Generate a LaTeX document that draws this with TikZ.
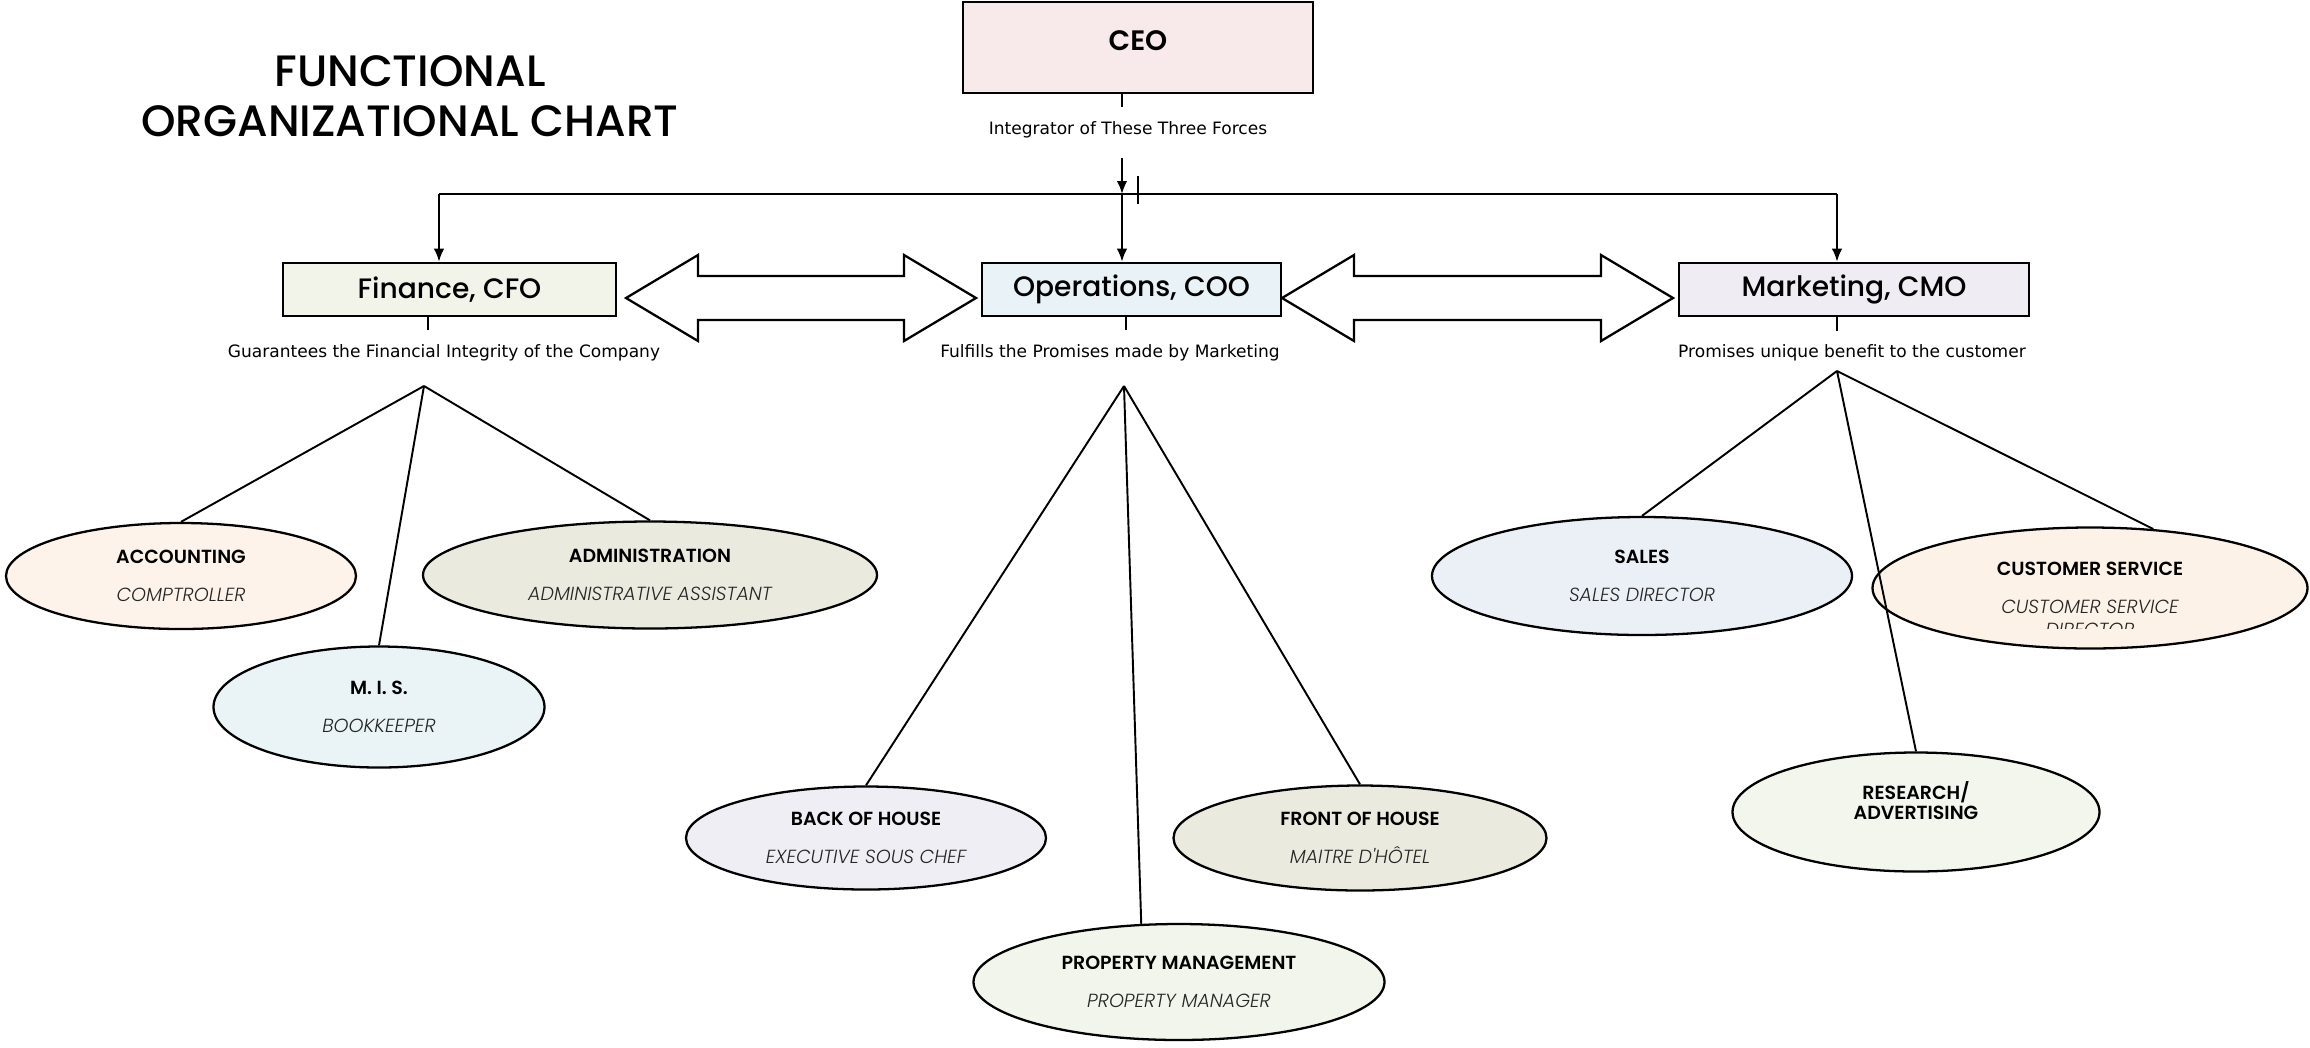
\documentclass[tikz,border=0pt]{standalone}
\usepackage{fontspec}
\setmainfont{Poppins}
\newfontfamily\notefont{DejaVu Sans}
\newfontfamily\titlefont{Poppins Medium}
\newfontfamily\semifont{Poppins SemiBold}
\newfontfamily\rolefont{Poppins Light Italic}
\usetikzlibrary{shapes.geometric,arrows.meta}
\definecolor{ceofill}{HTML}{F8EAEA}
\definecolor{cfofill}{HTML}{F2F4EA}
\definecolor{coofill}{HTML}{E9F3F7}
\definecolor{cmofill}{HTML}{EFEDF3}
\definecolor{accfill}{HTML}{FDF3EA}
\definecolor{admfill}{HTML}{EAEADF}
\definecolor{misfill}{HTML}{EAF4F7}
\definecolor{bohfill}{HTML}{EFEEF4}
\definecolor{fohfill}{HTML}{EBEADF}
\definecolor{pmfill}{HTML}{F2F5EB}
\definecolor{salfill}{HTML}{EBF0F6}
\definecolor{csfill}{HTML}{FDF2E8}
\definecolor{rafill}{HTML}{F3F6EC}
\definecolor{roleink}{HTML}{262626}

\tikzset{
  rolebox/.style={draw, line width=1.5pt, inner sep=0pt, font=\titlefont\fontsize{16}{19}\selectfont},
  unit/.style={ellipse, draw, line width=1.3pt, inner sep=0pt, align=center,
    font=\fontsize{10.8}{12.6}\selectfont},
  note/.style={font=\notefont\fontsize{9.7}{11.5}\selectfont},
  link/.style={line width=1.1pt},
  drop/.style={link, -{Latex[length=2.6mm,width=2.1mm]}},
}
% hollow two-headed arrow: left tip, right tip, axis
\newcommand\twoway[3]{%
  \filldraw[fill=white, line width=1.3pt, line join=miter]
    (#1,#3) -- (#1+72,#3-43) -- (#1+72,#3-22) -- (#2-72,#3-22) -- (#2-72,#3-43)
    -- (#2,#3) -- (#2-72,#3+43) -- (#2-72,#3+22) -- (#1+72,#3+22) -- (#1+72,#3+43) -- cycle;}

\begin{document}
\begin{tikzpicture}[x=0.2mm,y=-0.2mm]
  \useasboundingbox (0,0) rectangle (2310,1047);
  % heading
  \node[font=\titlefont\fontsize{25}{28.5}\selectfont, align=center] (title) at (410,96)
    {FUNCTIONAL\\ORGANIZATIONAL CHART};
  % chiefs
  \node[rolebox, fill=ceofill, minimum width=70mm, minimum height=18.2mm] (ceo) at (1138,47.5) {};
  \node[font=\semifont\fontsize{16}{19}\selectfont] (ceoname) at (1138,41) {CEO};
  \node[rolebox, fill=cfofill, minimum width=66.6mm, minimum height=10.6mm] (cfo) at (449.5,289.5) {Finance, CFO};
  \node[rolebox, fill=coofill, minimum width=59.8mm, minimum height=10.6mm] (coo) at (1131.5,289.5) {Operations, COO};
  \node[rolebox, fill=cmofill, minimum width=70mm, minimum height=10.6mm] (cmo) at (1854,289.5) {Marketing, CMO};
  \node[note] (ceonote) at (1128,130) {Integrator of These Three Forces};
  \node[note] (cfonote) at (444,353) {Guarantees the Financial Integrity of the Company};
  \node[note] (coonote) at (1110,353) {Fulfills the Promises made by Marketing};
  \node[note] (cmonote) at (1852,353) {Promises unique benefit to the customer};
  \draw[link] ([xshift=-3.2mm]ceo.south) -- ++(0,13);
  \draw[link] ([xshift=-4.3mm]cfo.south) -- ++(0,13);
  \draw[link] ([xshift=-1.1mm]coo.south) -- ++(0,13);
  \draw[link] ([xshift=-3.4mm]cmo.south) -- ++(0,14);
  % distribution bar
  \coordinate (feed) at (1122,158);
  \coordinate (bus) at (1122,194);
  \coordinate (busL) at (439,194);
  \coordinate (busR) at (1837,194);
  \draw[link] (busL) -- (busR);
  \draw[link] (bus -| ceo.south) ++(0,-18) -- ++(0,28);
  \draw[drop] (feed) -- (bus);
  \draw[drop] (busL) -- (busL |- cfo.north);
  \draw[drop] (bus) -- (bus |- coo.north);
  \draw[drop] (busR) -- (busR |- cmo.north);
  \twoway{626}{976}{298}
  \twoway{1282}{1673}{298}
  % departments
  \foreach \nm/\x/\y/\w/\h/\col/\head/\role in {
      acc/181/576/70/21.2/accfill/ACCOUNTING/COMPTROLLER,
      adm/650/575/90.8/21.4/admfill/ADMINISTRATION/ADMINISTRATIVE ASSISTANT,
      mis/379/707/66.2/24.2/misfill/M. I. S./BOOKKEEPER,
      boh/866/838/72/20.6/bohfill/BACK OF HOUSE/EXECUTIVE SOUS CHEF,
      foh/1360/838/74.6/21/fohfill/FRONT OF HOUSE/MAITRE D'HÔTEL,
      pm/1179/982/82.2/23.2/pmfill/PROPERTY MANAGEMENT/PROPERTY MANAGER,
      sal/1642/576/84/23.6/salfill/SALES/SALES DIRECTOR,
      cs/2090/588/87/24.2/csfill/CUSTOMER SERVICE/CUSTOMER SERVICE}
    \node[unit, fill=\col, minimum width=\w mm, minimum height=\h mm] (\nm) at (\x,\y)
      {{\semifont\head}\\[9pt]{\rolefont\color{roleink}\role}};
  \node[unit, fill=rafill, minimum width=73.4mm, minimum height=23.8mm,
    font=\fontsize{10.8}{11.4}\selectfont, text depth=13pt] (ra) at (1916,812)
    {\semifont RESEARCH/\\\semifont ADVERTISING};
  \begin{scope}
    \clip (1870,560) rectangle (2310,628);
    \node[font=\rolefont\fontsize{10.8}{12.6}\selectfont, text=roleink] (csdir) at (2090,630) {DIRECTOR};
  \end{scope}
  % reporting lines
  \coordinate (finroot) at (424,386);
  \coordinate (opsroot) at (1124,386);
  \coordinate (mktroot) at (1837,371);
  \foreach \u in {acc.north,mis.north,adm.north}
    \draw[link] (finroot) -- (\u);
  \foreach \u in {boh.north,pm.123,foh.north}
    \draw[link] (opsroot) -- (\u);
  \foreach \u in {sal.north,ra.north,cs.43}
    \draw[link] (mktroot) -- (\u);
\end{tikzpicture}
\end{document}
